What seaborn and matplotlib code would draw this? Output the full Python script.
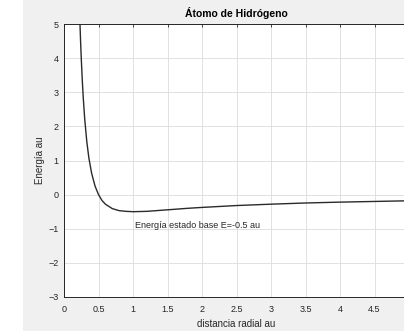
import matplotlib
matplotlib.use("Agg")
import matplotlib.pyplot as plt
import seaborn as sns
import pandas as pd
from matplotlib.patches import Rectangle

sns.set_style("white")
plt.rcParams['font.family'] = ['Liberation Sans', 'DejaVu Sans']

# data
radius = [0.23, 0.24, 0.25, 0.265, 0.28, 0.3, 0.33, 0.36, 0.4, 0.45, 0.5, 0.55, 0.6,
          0.7, 0.8, 0.9, 1.0, 1.2, 1.4, 1.6, 1.8, 2.0, 2.5, 3.0, 3.5, 4.0, 4.5, 5.0]
energy = [5.10, 4.51, 4.00, 3.35, 2.81, 2.22, 1.56, 1.08, 0.63, 0.25, 0.0, -0.17, -0.28,
          -0.41, -0.47, -0.49, -0.50, -0.49, -0.46, -0.43, -0.40, -0.375, -0.32, -0.28,
          -0.245, -0.22, -0.20, -0.18]
x_ticks = [0, 0.5, 1, 1.5, 2, 2.5, 3, 3.5, 4, 4.5]
x_tick_labels = ['0', '0.5', '1', '1.5', '2', '2.5', '3', '3.5', '4', '4.5']
y_ticks = [-3, -2, -1, 0, 1, 2, 3, 4, 5]
title = 'Átomo de Hidrógeno'
x_label = 'distancia radial au'
y_label = 'Energía au'
note = 'Energía estado base E=-0.5 au'

df = pd.DataFrame({'r': radius, 'E': energy})

fig = plt.figure(figsize=(4.04, 3.31), dpi=100, facecolor='white')
fig.patches.append(Rectangle((23 / 404, 0), 1, 1, transform=fig.transFigure,
                             facecolor='#f0f0f0', edgecolor='none', zorder=-10))
ax = fig.add_axes([64 / 404, 34 / 331, 345 / 404, 273 / 331])
ax.set_facecolor('white')

sns.lineplot(data=df, x='r', y='E', ax=ax, color='#2a2a2a', linewidth=1.0, sort=False)

ax.set_xlim(0, 5)
ax.set_ylim(-3, 5)
ax.set_xticks(x_ticks)
ax.set_xticklabels(x_tick_labels)
ax.set_yticks(y_ticks)
ax.set_yticklabels([str(v) if v >= 0 else '\u2212' + str(-v) for v in y_ticks])
ax.grid(True, color='#dcdcdc', linewidth=0.6)
ax.tick_params(direction='in', length=2.5, width=0.6, colors='#262626', labelsize=6.5,
               top=True, right=True, pad=4, labelcolor='#262626')
ax.tick_params(axis='x', pad=5.5)
for s in ax.spines.values():
    s.set_color('#262626')
    s.set_linewidth(0.7)

ax.set_title(title, fontsize=7.5, fontweight='bold', color='black', pad=5)
ax.set_xlabel(x_label, fontsize=7, color='#262626', labelpad=4)
ax.set_ylabel(y_label, fontsize=7, color='#262626', labelpad=2)
ax.text(1.03, -0.9, note, fontsize=6.5, color='#262626', ha='left', va='center')

fig.savefig('out.png', dpi=100, facecolor=fig.get_facecolor())
